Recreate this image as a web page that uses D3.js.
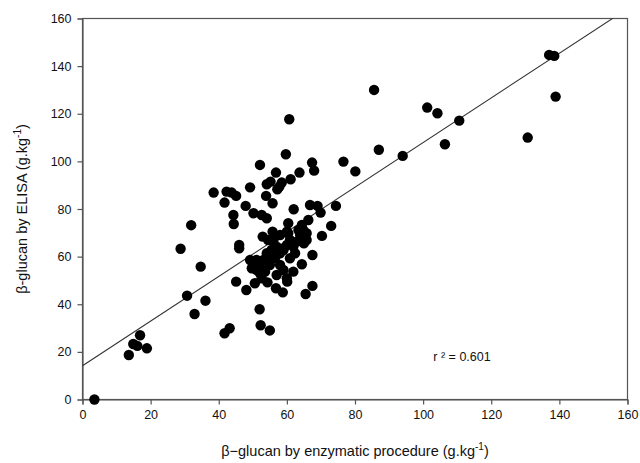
<!DOCTYPE html>
<html>
<head>
<meta charset="utf-8">
<script src="https://cdn.jsdelivr.net/npm/d3@7"></script>
<style>
  html, body { margin: 0; padding: 0; background: #fff; }
  svg { display: block; font-family: "Liberation Sans", Arial, sans-serif; }
</style>
</head>
<body>
<svg id="chart" width="640" height="463"></svg>
<script>
// Data: beta-glucan by enzymatic procedure (x) vs ELISA (y), g/kg
const enzymatic = [
  3.5, 13.6, 14.9, 16.1, 16.9, 18.9, 28.8, 31.9, 34.7, 30.7,
  32.9, 36.1, 41.7, 43.2, 45.1, 52.0, 52.3, 55.0, 48.1, 50.6,
  54.3, 56.8, 58.8, 60.1, 65.5, 67.5, 61.9, 64.4, 67.5, 70.3,
  73.0, 74.4, 69.9, 66.8, 69.0, 62.0, 47.9, 41.7, 44.3, 44.4,
  46.0, 46.0, 50.2, 52.6, 54.1, 55.8, 52.9, 55.8, 60.4, 60.0,
  63.4, 66.3, 65.8, 65.0, 61.9, 59.0, 60.7, 59.7, 52.1, 56.8,
  61.1, 63.7, 67.4, 68.0, 76.6, 80.1, 49.2, 54.1, 55.2, 57.8,
  57.2, 58.5, 38.5, 42.3, 43.8, 45.1, 53.9, 85.6, 101.2, 104.2,
  110.6, 106.4, 94.0, 87.0, 130.7, 137.0, 138.5, 138.9, 64.4,
  49.2, 50.2, 51.1, 49.7, 52.1, 53.1, 54.1, 55.5, 57.0, 58.0,
  59.0, 60.0, 56.5, 58.0, 59.0, 55.0, 53.6, 52.1, 60.9, 61.9,
  62.9, 63.9, 64.8, 60.4, 58.0, 56.5, 54.5, 56.0, 51.1, 55.0,
  52.6, 57.0, 60.0, 62.4, 60.9, 65.8
];
const elisa = [
  0.0, 18.7, 23.3, 22.5, 27.0, 21.5, 63.3, 73.2, 55.8, 43.6,
  35.9, 41.5, 27.8, 29.9, 49.5, 37.9, 31.2, 29.0, 46.0, 48.8,
  49.2, 46.7, 45.0, 49.5, 44.3, 47.7, 53.7, 56.8, 60.7, 68.7,
  72.9, 81.3, 78.5, 81.7, 81.3, 79.9, 81.3, 82.7, 77.5, 73.7,
  64.9, 63.5, 78.2, 77.5, 76.1, 82.4, 68.4, 70.5, 74.0, 70.5,
  71.2, 75.4, 69.8, 65.6, 65.6, 63.5, 117.7, 103.0, 98.5, 95.3,
  92.5, 95.3, 99.5, 96.1, 99.9, 95.8, 89.1, 90.4, 91.5, 89.4,
  88.3, 91.1, 86.9, 87.3, 86.9, 85.5, 85.5, 130.0, 122.6, 120.2,
  117.1, 107.2, 102.3, 104.9, 110.0, 144.7, 144.3, 127.2, 73.3,
  58.6, 56.5, 54.4, 55.1, 55.8, 58.6, 61.4, 62.8, 64.2, 61.4,
  62.8, 64.9, 59.3, 56.5, 54.4, 56.5, 53.7, 53.0, 59.3, 64.2,
  66.3, 69.1, 71.2, 69.8, 69.1, 68.4, 67.0, 66.3, 58.6, 59.3,
  50.9, 52.3, 50.9, 61.4, 67.0, 67.0
];
const xTicks = [0, 20, 40, 60, 80, 100, 120, 140, 160];
const yTicks = [0, 20, 40, 60, 80, 100, 120, 140, 160];
const fitIntercept = 14.2;
const fitSlope = 0.937;
const r2Label = "r ² = 0.601";

const svg = d3.select("#chart");
const L = 82.5, R = 627.5, T = 18.5, B = 399.5;
const x = d3.scaleLinear().domain([0, 160]).range([L, R]);
const y = d3.scaleLinear().domain([0, 160]).range([B, T]);

svg.append("defs").append("clipPath").attr("id", "plotclip")
  .append("rect").attr("x", L).attr("y", T).attr("width", R - L).attr("height", B - T);

// Frame
svg.append("rect")
  .attr("x", L).attr("y", T).attr("width", R - L).attr("height", B - T)
  .attr("fill", "none").attr("stroke", "#555").attr("stroke-width", 1.2);

// Axes
const xAxis = svg.append("g").attr("transform", `translate(0,${B})`)
  .call(d3.axisBottom(x).tickValues(xTicks).tickSize(5).tickPadding(6));
const yAxis = svg.append("g").attr("transform", `translate(${L},0)`)
  .call(d3.axisLeft(y).tickValues(yTicks).tickSize(5).tickPadding(6));
[xAxis, yAxis].forEach(g => {
  g.select(".domain").attr("stroke", "#555").attr("stroke-width", 1.2);
  g.selectAll(".tick line").attr("stroke", "#555").attr("stroke-width", 1.2);
  g.selectAll(".tick text").attr("fill", "#111")
    .style("font-family", "'Liberation Sans', Arial, sans-serif")
    .style("font-size", "12.5px");
});

// Regression line
const plot = svg.append("g").attr("clip-path", "url(#plotclip)");
plot.append("line")
  .attr("x1", x(0)).attr("y1", y(fitIntercept))
  .attr("x2", x(160)).attr("y2", y(fitIntercept + fitSlope * 160))
  .attr("stroke", "#333").attr("stroke-width", 1.1);

// Points
const pts = enzymatic.map((v, i) => ({ x: v, y: elisa[i] }));
svg.append("g").selectAll("circle").data(pts).join("circle")
  .attr("cx", d => x(d.x)).attr("cy", d => y(d.y))
  .attr("r", 5.2).attr("fill", "#000");

// r² annotation
svg.append("text")
  .attr("x", x(103)).attr("y", y(18) + 4)
  .attr("font-size", "12.5px").attr("fill", "#111")
  .text(r2Label);

// Axis titles
const xt = svg.append("text")
  .attr("x", (L + R) / 2).attr("y", 456)
  .attr("text-anchor", "middle").attr("font-size", "14.5px").attr("fill", "#111");
xt.append("tspan").text("β−glucan by enzymatic procedure (g.kg");
xt.append("tspan").attr("dy", -6).attr("font-size", "10px").text("-1");
xt.append("tspan").attr("dy", 6).text(")");

const yt = svg.append("text")
  .attr("transform", `translate(27,${(T + B) / 2}) rotate(-90)`)
  .attr("text-anchor", "middle").attr("font-size", "14.5px").attr("fill", "#111");
yt.append("tspan").text("β-glucan by ELISA (g.kg");
yt.append("tspan").attr("dy", -6).attr("font-size", "10px").text("-1");
yt.append("tspan").attr("dy", 6).text(")");
</script>
</body>
</html>
